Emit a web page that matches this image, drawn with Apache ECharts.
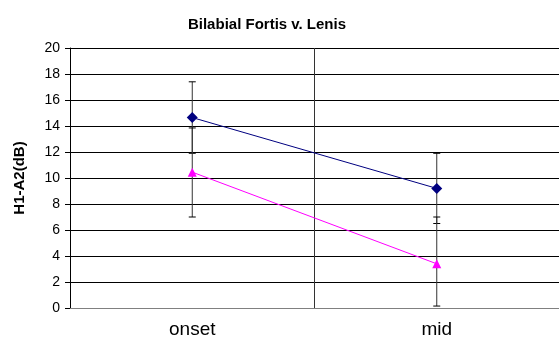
<!DOCTYPE html>
<html>
<head>
<meta charset="utf-8">
<script src="https://cdn.jsdelivr.net/npm/echarts@6/dist/echarts.min.js"></script>
<style>
  html, body { margin: 0; padding: 0; background: #fff; }
  #chart { width: 559px; height: 344px; }
</style>
</head>
<body>
<div id="chart"></div>
<script>
// Categories and measurements (H1-A2 in dB)
var categories = ['onset', 'mid'];
var yTicks = [0, 2, 4, 6, 8, 10, 12, 14, 16, 18, 20];

var fortisMean = [14.65, 9.2];
var fortisLow  = [11.9, 6.5];
var fortisHigh = [17.4, 11.9];

var lenisMean = [10.45, 3.4];
var lenisLow  = [7.0, 0.15];
var lenisHigh = [13.85, 7.0];

function errorData(low, high) {
  return categories.map(function (c, i) { return [i, low[i], high[i]]; });
}

// Vertical whisker with short caps at both ends
function renderErrorBar(params, api) {
  var x = api.value(0);
  var lo = api.coord([x, api.value(1)]);
  var hi = api.coord([x, api.value(2)]);
  var cap = 3.5;
  return {
    type: 'group',
    children: [
      { type: 'line', shape: { x1: lo[0], y1: lo[1], x2: hi[0], y2: hi[1] },
        style: { stroke: '#333', lineWidth: 1 } },
      { type: 'line', shape: { x1: hi[0] - cap, y1: hi[1], x2: hi[0] + cap, y2: hi[1] },
        style: { stroke: '#000', lineWidth: 1 } },
      { type: 'line', shape: { x1: lo[0] - cap, y1: lo[1], x2: lo[0] + cap, y2: lo[1] },
        style: { stroke: '#000', lineWidth: 1 } }
    ]
  };
}

var FONT = 'Arial, Liberation Sans, sans-serif';
var chart = echarts.init(document.getElementById('chart'), null, { renderer: 'canvas' });

chart.setOption({
  animation: false,
  backgroundColor: '#fff',
  title: {
    text: 'Bilabial Fortis v. Lenis',
    left: 262,
    top: 12,
    textAlign: 'center',
    textStyle: { fontFamily: FONT, fontSize: 15, fontWeight: 'bold', color: '#000' }
  },
  grid: { left: 70, right: -3, top: 48, bottom: 36 },
  xAxis: {
    type: 'category',
    data: categories,
    boundaryGap: true,
    axisLine: { lineStyle: { color: '#808080', width: 1 } },
    axisTick: { show: false },
    axisLabel: { fontFamily: FONT, fontSize: 19, color: '#000', margin: 12 },
    splitLine: { show: true, lineStyle: { color: '#333', width: 1 } }
  },
  yAxis: {
    type: 'value',
    min: yTicks[0],
    max: yTicks[yTicks.length - 1],
    interval: 2,
    name: 'H1-A2(dB)',
    nameLocation: 'middle',
    nameGap: 43,
    nameTextStyle: { fontFamily: FONT, fontSize: 15, fontWeight: 'bold', color: '#000' },
    axisLine: { show: true, lineStyle: { color: '#000', width: 1 } },
    axisTick: { show: true, length: 5, lineStyle: { color: '#000' } },
    axisLabel: { fontFamily: FONT, fontSize: 14, color: '#000', margin: 10 },
    splitLine: { show: true, lineStyle: { color: '#000', width: 1 } }
  },
  series: [
    {
      name: 'Fortis error',
      type: 'custom',
      renderItem: renderErrorBar,
      data: errorData(fortisLow, fortisHigh),
      encode: { x: 0, y: [1, 2] },
      z: 2
    },
    {
      name: 'Lenis error',
      type: 'custom',
      renderItem: renderErrorBar,
      data: errorData(lenisLow, lenisHigh),
      encode: { x: 0, y: [1, 2] },
      z: 2
    },
    {
      name: 'Fortis',
      type: 'line',
      data: fortisMean,
      symbol: 'diamond',
      symbolSize: 11,
      color: '#000080',
      lineStyle: { color: '#000080', width: 1 },
      itemStyle: { color: '#000080' },
      z: 5
    },
    {
      name: 'Lenis',
      type: 'line',
      data: lenisMean,
      symbol: 'triangle',
      symbolSize: 9,
      color: '#ff00ff',
      lineStyle: { color: '#ff00ff', width: 1 },
      itemStyle: { color: '#ff00ff' },
      z: 5
    }
  ]
});
</script>
</body>
</html>
